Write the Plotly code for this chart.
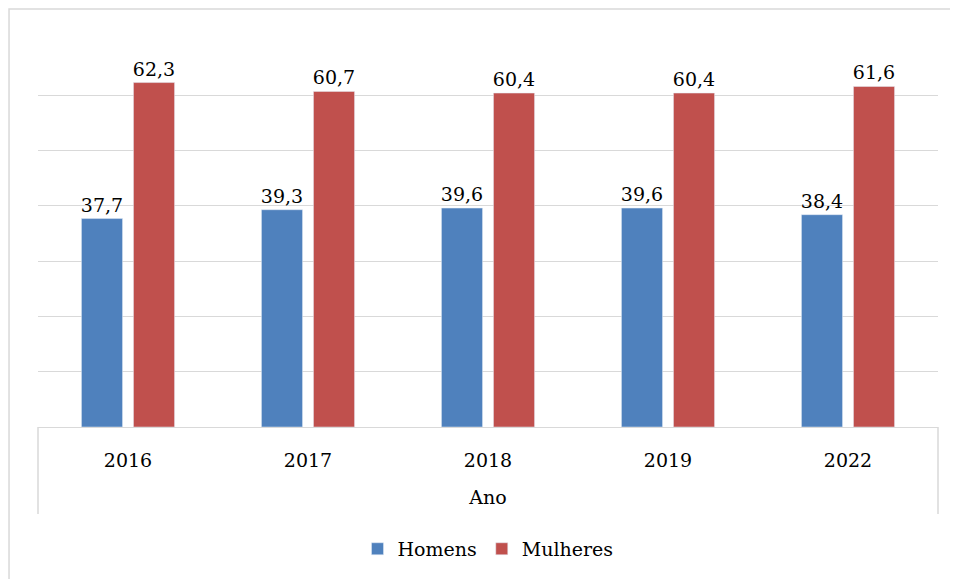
import plotly.graph_objects as go

anos = ["2016", "2017", "2018", "2019", "2022"]
homens = [37.7, 39.3, 39.6, 39.6, 38.4]
mulheres = [62.3, 60.7, 60.4, 60.4, 61.6]

FONT = "DejaVu Serif"
FS = 19
GRID = "#d9d9d9"

fig = go.Figure()
fig.add_trace(go.Bar(name="Homens", x=anos, y=homens, marker_color="#4F81BD",
                     texttemplate="%{y:.1f}", textposition="outside",
                     constraintext="none", cliponaxis=False,
                     textfont=dict(size=FS, color="black", family=FONT)))
fig.add_trace(go.Bar(name="Mulheres", x=anos, y=mulheres, marker_color="#C0504D",
                     texttemplate="%{y:.1f}", textposition="outside",
                     constraintext="none", cliponaxis=False,
                     textfont=dict(size=FS, color="black", family=FONT)))

fig.update_layout(
    width=958, height=579,
    margin=dict(l=30, r=28, t=32, b=160),
    paper_bgcolor="white", plot_bgcolor="white",
    separators=",.",
    barmode="group", bargap=0.422, bargroupgap=0.21,
    font=dict(family=FONT, size=FS, color="black"),
    showlegend=True,
    legend=dict(orientation="h", x=0.5, xanchor="center", y=-0.315, yanchor="middle",
                font=dict(size=FS, family=FONT), itemwidth=30, traceorder="normal"),
    xaxis=dict(showline=True, linecolor=GRID, linewidth=1, ticks="outside", ticklen=16,
               tickcolor="rgba(0,0,0,0)", tickfont=dict(size=FS, family=FONT),
               title=dict(text="Ano", font=dict(size=FS, family=FONT), standoff=20)),
    yaxis=dict(range=[0, 70], dtick=10, showticklabels=False, showgrid=True,
               gridcolor=GRID, gridwidth=1, zeroline=False, showline=False),
    shapes=[
        dict(type="line", xref="paper", yref="paper", x0=0, x1=0, y0=0, y1=-0.2248,
             line=dict(color=GRID, width=1.5)),
        dict(type="line", xref="paper", yref="paper", x0=1, x1=1, y0=0, y1=-0.2248,
             line=dict(color=GRID, width=1.5)),
        dict(type="rect", xref="paper", yref="paper", x0=-0.0322, x1=1.2, y0=-0.6, y1=1.0801,
             line=dict(color=GRID, width=1.5), layer="below"),
    ],
)

fig.write_html("out.html")
